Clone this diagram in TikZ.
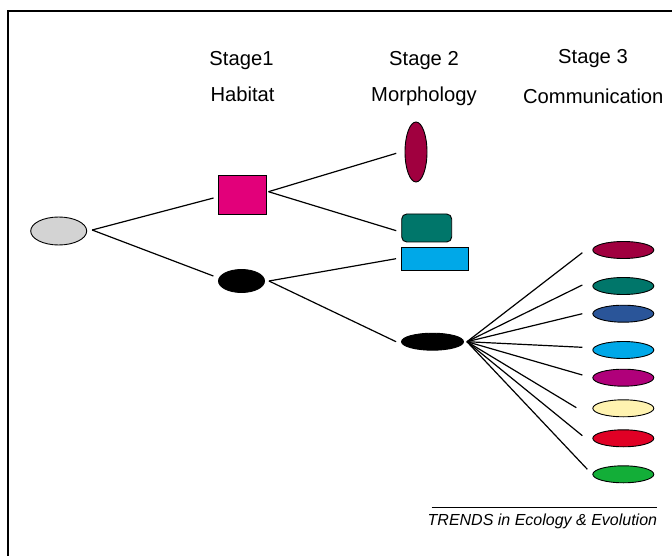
\documentclass[tikz,border=0pt]{standalone}
\usepackage{fontspec}
\setmainfont{Liberation Sans}
\usetikzlibrary{shapes.geometric}
\definecolor{rootgray}{HTML}{D3D3D3}
\definecolor{magentaS}{HTML}{E2007A}
\definecolor{maroonS}{HTML}{A0003F}
\definecolor{tealS}{HTML}{00766A}
\definecolor{skyS}{HTML}{00A8E8}
\definecolor{navyS}{HTML}{2A5599}
\definecolor{purpleS}{HTML}{B0007A}
\definecolor{creamS}{HTML}{FFF3B0}
\definecolor{redS}{HTML}{E00025}
\definecolor{greenS}{HTML}{13AE38}
\tikzset{
  base/.style={draw=black, line width=0.9pt, inner sep=0pt},
  oval/.style={base, ellipse},
  fanoval/.style={oval, minimum width=61pt, minimum height=17pt},
  conn/.style={line width=1.2pt},
  lbl/.style={font=\fontsize{20.2}{24}\selectfont, inner sep=0pt, anchor=base}
}
\begin{document}
\begin{tikzpicture}[x=1pt, y=-1pt]
\useasboundingbox (0,0) rectangle (672,556);
% frame
\draw[line width=1.4pt] (8,556) -- (8,11) -- (672,11);
% labels
\node[lbl] (s1) at (241.5,66) {Stage1};
\node[lbl] (h1) at (242.5,102) {Habitat};
\node[lbl] (s2) at (424,66) {Stage 2};
\node[lbl] (h2) at (424,102) {Morphology};
\node[lbl] (s3) at (593,64) {Stage 3};
\node[lbl] (h3) at (593.3,104) {Communication};
% nodes
\node[oval, fill=rootgray, minimum width=56pt, minimum height=28pt] (root) at (58.7,231) {};
\node[base, fill=magentaS, minimum width=48pt, minimum height=39pt] (sq) at (242.7,194.5) {};
\node[oval, fill=black, minimum width=46pt, minimum height=23pt] (b1) at (241.5,281) {};
\node[oval, fill=maroonS, minimum width=22pt, minimum height=60pt] (mv) at (416,152) {};
\node[base, fill=tealS, rounded corners=5pt, minimum width=50pt, minimum height=28pt] (tr) at (426.7,228) {};
\node[base, fill=skyS, minimum width=67pt, minimum height=23pt] (br) at (435,258.7) {};
\node[oval, fill=black, minimum width=62pt, minimum height=17pt] (b2) at (432.5,341.7) {};
\node[fanoval, fill=maroonS] (f1) at (623.3,250) {};
\node[fanoval, fill=tealS] (f2) at (623.3,286) {};
\node[fanoval, fill=navyS] (f3) at (623.3,313.7) {};
\node[fanoval, fill=skyS] (f4) at (623.3,350) {};
\node[fanoval, fill=purpleS] (f5) at (623.3,377.7) {};
\node[fanoval, fill=creamS] (f6) at (623.3,408.3) {};
\node[fanoval, fill=redS] (f7) at (623.3,438.3) {};
\node[fanoval, fill=greenS] (f8) at (623.3,474.3) {};
% connectors
\coordinate (r0) at ([shift={(5,-1)}]root.east);
\draw[conn] (r0) -- ([shift={(-4.7,3.5)}]sq.west);
\draw[conn] (r0) -- ([shift={(-4.7,-5)}]b1.west);
\coordinate (q0) at ([shift={(1.3,-2.8)}]sq.east);
\draw[conn] (q0) -- ([shift={(-8.3,1.3)}]mv.west);
\draw[conn] (q0) -- ([shift={(-5,2.7)}]tr.west);
\coordinate (k0) at ([shift={(4,0)}]b1.east);
\draw[conn] (k0) -- ([shift={(-5,0)}]br.west);
\draw[conn] (k0) -- ([shift={(-5,0)}]b2.west);
\coordinate (fo) at ([shift={(3,0)}]b2.east);
\draw[conn] (fo) -- ([shift={(-10,2.7)}]f1.west);
\draw[conn] (fo) -- ([shift={(-10,-1)}]f2.west);
\draw[conn] (fo) -- ([shift={(-10,0)}]f3.west);
\draw[conn] (fo) -- ([shift={(-10,-2.7)}]f4.west);
\draw[conn] (fo) -- ([shift={(-10,-2.7)}]f5.west);
\draw[conn] (fo) -- ([shift={(-16,-0.6)}]f6.west);
\draw[conn] (fo) -- ([shift={(-10,-2.6)}]f7.west);
\draw[conn] (fo) -- ([shift={(-5,-5)}]f8.west);
% caption
\node[font=\fontsize{16}{19}\selectfont\itshape, inner sep=0pt, anchor=base east] (cap) at (657.3,525) {TRENDS in Ecology \& Evolution};
\coordinate (capl) at (431.7,507.7);
\coordinate (capr) at (656.7,507.7);
\draw[line width=0.8pt] (capl) -- (capr);
\end{tikzpicture}
\end{document}
